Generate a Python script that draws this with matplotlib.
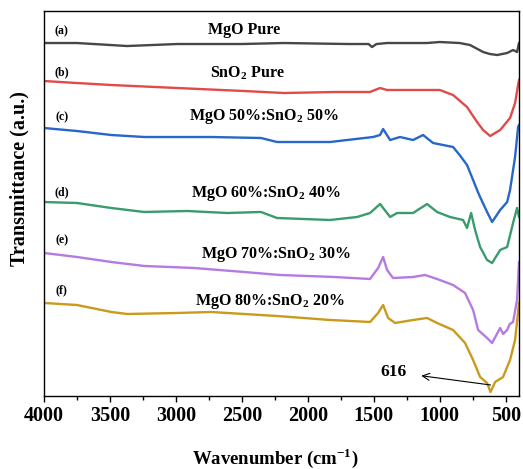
import matplotlib
matplotlib.use("Agg")
import matplotlib.pyplot as plt
from matplotlib.ticker import MultipleLocator

plt.rcParams["font.family"] = ["Liberation Serif", "DejaVu Serif"]
plt.rcParams["font.weight"] = "bold"
plt.rcParams["mathtext.fontset"] = "custom"
plt.rcParams["mathtext.rm"] = "Liberation Serif:bold"
plt.rcParams["mathtext.bf"] = "Liberation Serif:bold"

# FTIR spectra (wavenumber in cm^-1, transmittance with vertical offset, a.u.)
wn_a = [4000, 3750, 3370, 2990, 2500, 2181, 1700, 1540, 1514, 1480, 1400, 1100,
        1000, 850, 771, 672, 620, 566, 490, 445, 415, 400]
t_a = [353, 353, 350, 352, 352, 353, 352, 352, 349, 352, 353, 353,
       354, 353, 351, 344, 342, 341, 343, 346, 344, 353]

wn_b = [4000, 3750, 3490, 2990, 2484, 2181, 1800, 1530, 1453, 1400, 1200, 1000,
        900, 794, 718, 672, 619, 543, 468, 430, 407, 400]
t_b = [315, 313, 311, 308, 305, 303, 304, 304, 308, 306, 306, 306,
       301, 289, 274, 266, 260, 266, 278, 293, 311, 316]

wn_c = [4000, 3750, 3490, 3240, 2734, 2355, 2234, 1832, 1703, 1506, 1453, 1430,
        1377, 1302, 1203, 1127, 1051, 900, 850, 794, 748, 718, 695, 642, 604,
        543, 490, 468, 430, 407, 400]
t_c = [268, 265, 261, 259, 259, 258, 254, 254, 256, 259, 261, 267,
       256, 259, 256, 261, 253, 249, 241, 231, 216, 206, 199, 184, 174,
       186, 194, 206, 239, 269, 271]

wn_d = [4000, 3750, 3490, 3240, 2916, 2613, 2355, 2234, 1832, 1627, 1529, 1453,
        1377, 1324, 1203, 1097, 1021, 923, 824, 794, 763, 733, 695, 642, 604,
        543, 490, 445, 415, 400]
t_d = [194, 193, 188, 184, 185, 183, 184, 178, 176, 179, 183, 192,
       179, 183, 183, 192, 184, 179, 176, 168, 183, 166, 149, 136, 133,
       146, 149, 173, 188, 179]

wn_e = [4000, 3750, 3490, 3240, 2863, 2484, 2211, 1800, 1529, 1468, 1430, 1400,
        1355, 1203, 1112, 1021, 900, 809, 748, 710, 642, 604, 543, 520, 490,
        470, 445, 415, 400]
t_e = [143, 139, 134, 130, 128, 124, 121, 119, 117, 128, 139, 126,
       118, 119, 121, 117, 111, 103, 86, 66, 58, 53, 68, 62, 66,
       72, 74, 96, 134]

wn_f = [4000, 3750, 3490, 3370, 2990, 2734, 2484, 2234, 1832, 1529, 1468, 1430,
        1392, 1339, 1203, 1097, 1021, 900, 809, 748, 695, 642, 616, 581, 521,
        468, 430, 400]
t_f = [93, 91, 84, 82, 83, 84, 82, 80, 76, 74, 83, 91,
       78, 73, 76, 78, 73, 66, 53, 36, 19, 13, 4, 14, 19,
       36, 56, 93]

series = [
    (wn_a, t_a, "#474747", "(a)", "MgO Pure"),
    (wn_b, t_b, "#e04a48", "(b)", r"SnO$_\mathbf{2}$ Pure"),
    (wn_c, t_c, "#2767c8", "(c)", r"MgO 50%:SnO$_\mathbf{2}$ 50%"),
    (wn_d, t_d, "#3a9c6c", "(d)", r"MgO 60%:SnO$_\mathbf{2}$ 40%"),
    (wn_e, t_e, "#b57be0", "(e)", r"MgO 70%:SnO$_\mathbf{2}$ 30%"),
    (wn_f, t_f, "#c99a1c", "(f)", r"MgO 80%:SnO$_\mathbf{2}$ 20%"),
]

# letter and title placement: (letter y, title x, title y)
label_pos = [
    (365, 2480, 366),
    (324, 2455, 323),
    (279, 2330, 280),
    (204, 2320, 203),
    (156, 2245, 141),
    (106, 2290, 94),
]

fig = plt.figure(figsize=(5.23, 4.69), dpi=100)
ax = fig.add_axes([0.0841, 0.1557, 0.9083, 0.8208])

for (wn, t, col, letter, title), (ly, tx, ty) in zip(series, label_pos):
    ax.plot(wn, t, color=col, lw=1.7, solid_joinstyle="round")
    ax.text(3865, ly, letter, fontsize=8.5, fontweight="bold", ha="center",
            va="center")
    ax.text(tx, ty, title, fontsize=11.5, fontweight="bold", ha="center",
            va="center")

ax.annotate("616", xy=(616, 11), xytext=(1355, 24), fontsize=12.5,
            fontweight="bold", ha="center", va="center",
            arrowprops=dict(arrowstyle="<-", color="black", lw=0.8,
                            shrinkA=9, shrinkB=0))

ax.set_xlim(4000, 400)
ax.set_ylim(0, 385)
ax.xaxis.set_major_locator(MultipleLocator(500))
ax.xaxis.set_minor_locator(MultipleLocator(250))
ax.set_yticks([])
ax.tick_params(axis="x", which="major", length=4, width=1, labelsize=14.5,
               pad=3)
ax.tick_params(axis="x", which="minor", length=3, width=1)
for lab in ax.get_xticklabels():
    lab.set_fontweight("bold")
for sp in ax.spines.values():
    sp.set_linewidth(1.0)

fig.text(0.526, 1 - 458 / 469, r"Wavenumber (cm$^\mathbf{-1}$)",
         fontsize=13.5, fontweight="bold", ha="center", va="center")
fig.text(0.038, 1 - 179 / 469, "Transmittance (a.u.)", fontsize=14.5,
         fontweight="bold", ha="center", va="center", rotation=90)

fig.savefig("out.png", dpi=100)
